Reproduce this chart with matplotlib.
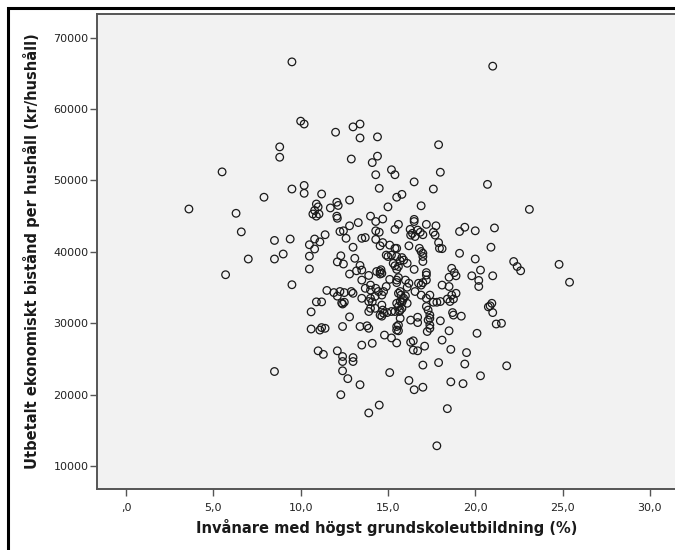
import matplotlib
matplotlib.use("Agg")
import matplotlib.pyplot as plt
from matplotlib.patches import Rectangle

# Invånare med högst grundskoleutbildning (%) -- one value per municipality
andel = [
    3.6, 5.5, 5.7, 6.3, 6.6, 7.0, 7.9, 8.5, 8.5, 8.5,
    8.8, 8.8, 9.0, 9.4, 9.5, 9.5, 9.5, 10.0, 10.2, 10.2,
    10.2, 10.5, 10.5, 10.5, 10.6, 10.6, 10.7, 10.8, 10.9, 11.0,
    10.9, 11.05, 10.8, 10.8, 10.9, 11.0, 11.1, 11.1, 11.2, 11.2,
    11.2, 11.3, 11.4, 11.4, 11.5, 11.7, 11.9, 12.0, 12.07, 12.15,
    12.07, 12.1, 12.1, 12.1, 12.25, 12.3, 12.25, 12.35, 12.4, 12.4,
    12.4, 12.4, 12.4, 12.3, 12.45, 12.1, 12.45, 12.5, 12.5, 12.6,
    12.7, 12.8, 12.8, 12.8, 12.8, 12.9, 12.9, 13.0, 13.0, 13.0,
    13.0, 13.0, 13.1, 13.2, 13.3, 13.4, 13.4, 13.4, 13.4, 13.4,
    13.5, 13.5, 13.5, 13.5, 13.5, 13.7, 13.7, 13.8, 13.9, 13.9,
    13.9, 13.9, 13.9, 14.0, 14.0, 14.0, 14.0, 14.0, 14.1, 14.1,
    14.1, 14.26, 14.26, 14.3, 14.3, 14.3, 14.3, 14.3, 14.35, 14.4,
    14.4, 14.5, 14.5, 14.5, 14.55, 14.55, 14.55, 14.55, 14.6, 14.65,
    14.65, 14.65, 14.7, 14.7, 14.7, 14.75, 14.8, 14.9, 14.9, 14.95,
    15.0, 15.0, 15.1, 15.1, 15.1, 15.2, 15.2, 15.2, 15.2, 15.3,
    15.4, 15.4, 15.4, 15.4, 15.4, 15.5, 15.5, 15.5, 15.5, 15.5,
    15.5, 15.5, 15.5, 15.6, 15.6, 15.6, 15.6, 15.6, 15.6, 15.65,
    15.7, 15.7, 15.7, 15.7, 15.75, 15.8, 15.8, 15.8, 15.85, 15.9,
    16.0, 16.0, 16.1, 16.2, 16.2, 16.2, 16.27, 16.3, 16.3, 16.4,
    16.45, 16.45, 16.5, 16.5, 16.5, 16.5, 16.5, 16.55, 16.55, 16.7,
    16.7, 16.7, 16.7, 16.8, 16.9, 16.9, 16.9, 16.9, 17.0, 17.0,
    17.0, 17.0, 17.0, 17.0, 17.1, 17.2, 17.2, 17.2, 17.2, 17.2,
    17.2, 17.25, 17.3, 17.3, 17.4, 17.4, 17.4, 17.4, 17.6, 17.6,
    17.75, 17.8, 17.8, 17.9, 17.9, 17.9, 17.95, 18.0, 18.0, 18.0,
    18.1, 18.1, 18.1, 18.4, 18.4, 18.5, 18.5, 18.5, 18.55, 18.6,
    18.6, 18.65, 18.7, 18.75, 18.75, 18.8, 18.9, 18.9, 19.1, 19.1,
    19.2, 19.3, 19.4, 19.4, 19.5, 19.8, 20.0, 20.0, 20.1, 20.2,
    20.2, 20.3, 20.3, 20.7, 20.75, 20.85, 20.9, 20.95, 21.0, 21.0,
    21.0, 21.1, 21.2, 21.5, 21.8, 22.2, 22.4, 22.6, 23.1, 24.8,
    25.4,
    15.6, 15.5, 16.1, 16.75, 18.65, 17.6, 15.7, 15.9, 15.5, 16.1,
    15.8, 17.4, 14.45, 14.75, 14.65, 17.0, 16.3, 16.85, 17.7,
]

# Utbetalt ekonomiskt bistånd per hushåll (kr/hushåll)
bistand = [
    46000, 51200, 36800, 45400, 42800, 39000, 47650, 41600, 39000, 23250,
    54700, 53250, 39700, 41800, 66600, 48800, 35400, 58300, 57900, 49300,
    48200, 41000, 39400, 37600, 31600, 29200, 45300, 45800, 46700, 46300,
    45000, 45300, 41800, 40400, 33000, 26150, 41400, 29050, 48100, 33000,
    29400, 25650, 42400, 29300, 34600, 46150, 34300, 56750, 46950, 46500,
    45000, 44700, 33800, 26150, 42850, 39450, 34450, 32850, 29550, 25350,
    24650, 23350, 32700, 20000, 42950, 38600, 38300, 34300, 32950, 41900,
    22250, 47250, 43650, 36900, 30900, 53000, 34450, 57500, 40650, 34200,
    25200, 24650, 39100, 37350, 44100, 57900, 55950, 38100, 29550, 21400,
    41900, 36050, 33500, 26950, 37450, 42000, 34900, 29650, 36700, 33050,
    31650, 29300, 17450, 45000, 35350, 34650, 32100, 33500, 52500, 27200,
    33000, 33750, 32100, 50800, 44250, 42950, 41750, 34900, 37250, 56100,
    53400, 48900, 42750, 18550, 40850, 37250, 36900, 31150, 37500, 37000,
    32550, 31000, 44600, 41300, 31850, 31400, 28350, 35150, 39550, 31500,
    46300, 39350, 36150, 40950, 23100, 51500, 39550, 31650, 27950, 38400,
    50800, 43150, 40500, 38050, 31650, 47650, 40500, 39350, 37550, 36050,
    29550, 29050, 27250, 43850, 37950, 34200, 32350, 29750, 28950, 31650,
    38750, 33050, 31850, 30700, 33950, 48050, 39200, 32950, 33300, 38850,
    36050, 33850, 38400, 40850, 35600, 22000, 43150, 30450, 27350, 42600,
    27550, 26250, 49800, 44550, 44250, 37550, 20700, 42150, 34450, 43050,
    30850, 30100, 26150, 40500, 46450, 40050, 35350, 33950, 42400, 39350,
    38650, 35700, 24150, 21050, 26800, 43850, 37100, 36750, 36050, 33500,
    32350, 28850, 31850, 30450, 31150, 30700, 29300, 33950, 48800, 42750,
    43650, 32950, 12850, 55000, 41300, 24500, 40500, 51150, 33050, 30350,
    40450, 35350, 27650, 33400, 18050, 36450, 35150, 28950, 33050, 26350,
    21800, 37700, 31500, 33400, 31150, 37100, 36650, 34200, 42850, 39800,
    31000, 21550, 43450, 24300, 25900, 36650, 42950, 39000, 28600, 36000,
    35150, 37450, 22650, 49450, 32300, 32450, 40650, 32800, 66000, 36650,
    31500, 43350, 29900, 30000, 24050, 38650, 37950, 37350, 45950, 38250,
    35750,
    36400, 35700, 35050, 35600, 33950, 32950, 34450, 33500, 32800, 32800,
    32100, 29750, 34450, 34450, 33950, 39800, 42350, 42750, 42350,
]

xticks = [0, 5, 10, 15, 20, 25, 30]
xticklabels = [",0", "5,0", "10,0", "15,0", "20,0", "25,0", "30,0"]
yticks = [10000, 20000, 30000, 40000, 50000, 60000, 70000]

fig = plt.figure(figsize=(6.75, 5.5), dpi=100)
ax = fig.add_axes([0.1433, 0.1109, 0.8567, 0.8636])
ax.set_facecolor("#f2f2f2")

ax.scatter(andel, bistand, s=30, facecolors="none",
           edgecolors="#1a1a1a", linewidths=0.9, zorder=3)

ax.set_xlim(-1.68, 31.44)
ax.set_ylim(6800, 73300)
ax.set_xticks(xticks)
ax.set_xticklabels(xticklabels)
ax.set_yticks(yticks)
ax.set_yticklabels([str(v) for v in yticks])

for side in ("left", "bottom", "top"):
    ax.spines[side].set_color("#555555")
    ax.spines[side].set_linewidth(1.4)
ax.spines["right"].set_visible(False)

ax.tick_params(axis="both", direction="out", length=5, width=1,
               color="#555555", labelsize=8, labelcolor="#222222")
ax.tick_params(axis="y", pad=1)
ax.tick_params(axis="x", pad=5)

fig.text(0.5726, 0.040, "Invånare med högst grundskoleutbildning (%)",
         ha="center", va="center", fontsize=10.5, fontweight="bold",
         color="#1a1a1a")
fig.text(0.046, 0.5436, "Utbetalt ekonomiskt bistånd per hushåll (kr/hushåll)",
         ha="center", va="center", rotation=90, fontsize=10.5,
         fontweight="bold", color="#1a1a1a")

# thick outer frame of the chart window
fig.patches.append(Rectangle((8 / 675, -0.05), 1.2, 1 - 8 / 550 + 0.05,
                             transform=fig.transFigure, fill=False,
                             edgecolor="black", linewidth=2.2))

fig.savefig("out.png", dpi=100)
